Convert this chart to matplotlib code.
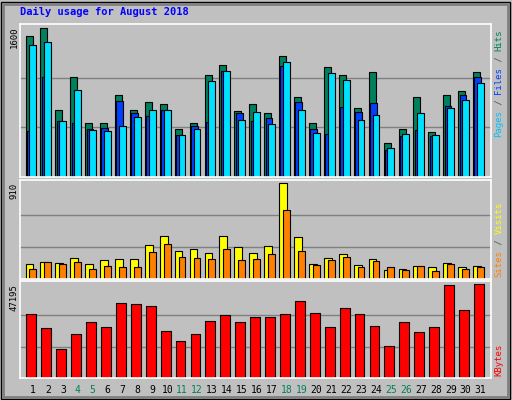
import numpy as np
import matplotlib.pyplot as plt

days = np.arange(1, 32)
weekend = [4, 5, 11, 12, 18, 19, 25, 26]

# values
hits = [1516, 1604, 727, 1076, 585, 585, 880, 727, 804, 782, 520, 585, 1098, 1207, 716, 782, 684, 1305, 858, 585, 1185, 1098, 738, 1131, 367, 520, 858, 487, 880, 924, 1131]
files = [1418, 1458, 607, 935, 509, 498, 553, 651, 727, 727, 455, 520, 1033, 1142, 618, 705, 575, 1240, 727, 476, 1120, 1044, 618, 673, 313, 465, 691, 455, 738, 825, 1011]
pages = [498, 1076, 607, 585, 520, 531, 815, 684, 662, 727, 455, 553, 593, 1142, 684, 607, 640, 1196, 804, 520, 465, 749, 705, 793, 291, 444, 509, 444, 760, 884, 1076]
sites = [138, 158, 148, 198, 138, 178, 188, 188, 326, 406, 267, 287, 247, 406, 307, 247, 317, 910, 396, 138, 198, 237, 128, 188, 89, 99, 119, 109, 148, 109, 119]
visits = [99, 158, 138, 158, 99, 119, 109, 109, 257, 336, 208, 198, 188, 287, 178, 188, 237, 653, 267, 128, 178, 208, 109, 168, 109, 89, 119, 79, 138, 99, 109]
kbytes = [31979, 25237, 14346, 22125, 27830, 25755, 37684, 37165, 36128, 23680, 18495, 22125, 28349, 31461, 27830, 30424, 30424, 31979, 38721, 32498, 25755, 35091, 31979, 26274, 15901, 27830, 23162, 25755, 46677, 34054, 47195]

BG = '#c0c0c0'
fig = plt.figure(figsize=(5.12, 4.0), dpi=100, facecolor=BG)
W, H = 512, 400
plt.rcParams['font.family'] = 'DejaVu Sans Mono'

# outer border
fig.patches.append(plt.Rectangle((1/W, 1/H), 1-3/W, 1-3/H, transform=fig.transFigure,
                                 fill=False, ec='black', lw=1))
fig.patches.append(plt.Rectangle((3/W, 3/H), 1-7/W, 1-7/H, transform=fig.transFigure,
                                 fill=False, ec='#808080', lw=2))
fig.text(20/W, 1-12/H, 'Daily usage for August 2018', color='#0000ff', fontsize=7.5,
         fontweight='bold', va='center', ha='left')


def panel(top, bottom, ymax, label):
    ax = fig.add_axes([20/W, 1-bottom/H, 471/W, (bottom-top)/H])
    ax.set_facecolor(BG)
    ax.set_xlim(0.13, 31.7)
    ax.set_ylim(0, ymax*1.03)
    ax.set_xticks([]); ax.set_yticks([])
    for s in ax.spines.values():
        s.set_color('white'); s.set_linewidth(1.2)
    for g in (ymax/3, 2*ymax/3):
        ax.axhline(g, color='#808080', lw=1, zorder=0)
    fig.text(14/W, 1-(top+3)/H, label, rotation=90, fontsize=6.5, ha='center', va='top')
    return ax


def vlabel(y_bottom, parts):
    y = y_bottom
    for txt, col in parts:
        fig.text(499/W, 1-y/H, txt, rotation=90, color=col, fontsize=6.5,
                 ha='center', va='bottom')
        y -= 5.4*len(txt)


bk = dict(edgecolor='black', linewidth=0.8, align='edge')

ax1 = panel(24, 177, 1600, '1600')
ax1.bar(days-0.5, hits, width=0.47, color='#00805c', **bk)
ax1.bar(days-0.41, pages, width=0.46, color='#0040ff', **bk)
ax1.bar(days-0.24, files, width=0.46, color='#00e0ff', **bk)
vlabel(137, [('Pages', '#00c0ff'), (' / ', '#505050'), ('Files', '#0040ff'),
             (' / ', '#505050'), ('Hits', '#00805c')])

ax2 = panel(180, 279, 910, '910')
ax2.bar(days-0.5, sites, width=0.52, color='#ffff00', **bk)
ax2.bar(days-0.24, visits, width=0.46, color='#ff8000', **bk)
vlabel(277, [('Sites', '#ff8000'), (' / ', '#505050'), ('Visits', '#ffff00')])

ax3 = panel(281, 378, 47195, '47195')
ax3.bar(days-0.44, kbytes, width=0.66, color='#ff0000', **bk)
vlabel(376, [('KBytes', '#ff0000')])

for d in days:
    ax3.text(d, -0.12, str(d), transform=ax3.get_xaxis_transform(), ha='center', va='center',
             fontsize=7, color='#00805c' if d in weekend else 'black')

plt.savefig('out.png', dpi=100, facecolor=BG)
